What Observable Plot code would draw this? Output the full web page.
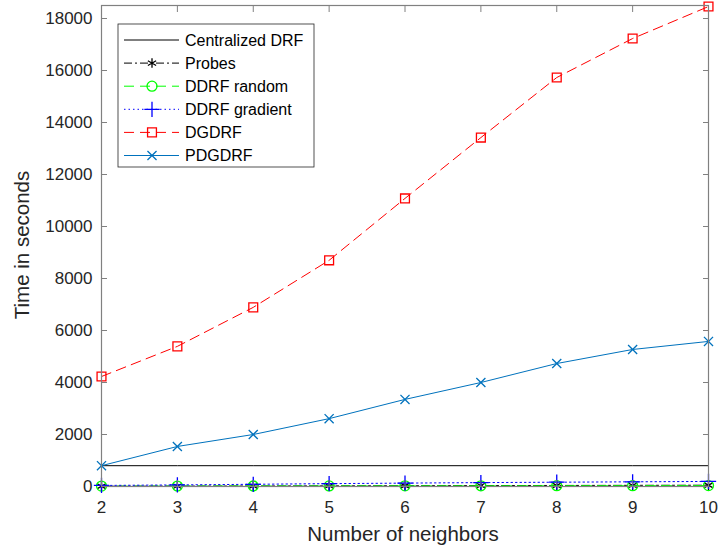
<!DOCTYPE html>
<html>
<head>
<meta charset="utf-8">
<script src="https://cdn.jsdelivr.net/npm/d3@7"></script>
<script src="https://cdn.jsdelivr.net/npm/@observablehq/plot@0.6"></script>
<style>
  html, body { margin: 0; padding: 0; background: #fff; }
  #chart svg { display: block; }
</style>
</head>
<body>
<div id="chart"></div>
<script>
const neighbors = [2, 3, 4, 5, 6, 7, 8, 9, 10];
const centralizedDRF = [800, 800, 800, 800, 800, 800, 800, 800, 800];
const probes = [10, 15, 20, 25, 30, 35, 40, 45, 50];
const ddrfRandom = [15, 18, 20, 22, 25, 27, 30, 32, 35];
const ddrfGradient = [40, 60, 85, 110, 130, 150, 165, 180, 195];
const dgdrf = [4230, 5390, 6890, 8700, 11080, 13420, 15730, 17230, 18460];
const pdgdrf = [800, 1540, 2000, 2610, 3350, 4000, 4730, 5270, 5580];
const yTicks = [0, 2000, 4000, 6000, 8000, 10000, 12000, 14000, 16000, 18000];

const seriesNames = ["Centralized DRF", "Probes", "DDRF random", "DDRF gradient", "DGDRF", "PDGDRF"];
const seriesValues = [centralizedDRF, probes, ddrfRandom, ddrfGradient, dgdrf, pdgdrf];
const styles = {
  "Centralized DRF": {stroke: "#000000", dash: "none", symbol: null},
  "Probes": {stroke: "#000000", dash: "8,3,2,3", symbol: "asterisk"},
  "DDRF random": {stroke: "#00ff00", dash: "10,6", symbol: "circle"},
  "DDRF gradient": {stroke: "#0000ff", dash: "1.5,3", symbol: "plus"},
  "DGDRF": {stroke: "#ff0000", dash: "10,6", symbol: "square"},
  "PDGDRF": {stroke: "#0072bd", dash: "none", symbol: "times"}
};
const rSize = {asterisk: 4.5, circle: 5, plus: 5, square: 5, times: 4.2};

const rows = [];
seriesNames.forEach((name, i) => {
  neighbors.forEach((n, j) => rows.push({series: name, x: n, y: seriesValues[i][j]}));
});

const marks = [];
seriesNames.forEach(name => {
  const s = styles[name];
  const data = rows.filter(d => d.series === name);
  marks.push(Plot.line(data, {x: "x", y: "y", stroke: s.stroke, strokeWidth: 1, strokeDasharray: s.dash}));
  if (s.symbol) {
    marks.push(Plot.dot(data, {x: "x", y: "y", stroke: s.stroke, symbol: () => s.symbol, r: rSize[s.symbol], strokeWidth: 1.3, fill: "none"}));
  }
});

const axisColor = "#262626";
const chart = Plot.plot({
  width: 721,
  height: 549,
  marginLeft: 101,
  marginRight: 13,
  marginTop: 5,
  marginBottom: 63,
  style: {fontFamily: "'Liberation Sans', Arial, Helvetica, sans-serif", background: "#fff", color: axisColor},
  x: {domain: [2, 10]},
  y: {domain: [0, 18500]},
  marks: [
    ...marks,
    Plot.frame({stroke: "#808080", strokeWidth: 1.2}),
    Plot.axisX({ticks: neighbors, tickSize: -6, tickPadding: 20, fontSize: 17, label: null, stroke: "#808080"}),
    Plot.axisX({anchor: "top", ticks: neighbors, tickSize: -6, tickFormat: () => "", label: null, stroke: "#808080"}),
    Plot.axisY({ticks: yTicks, tickSize: -6, tickPadding: 15, fontSize: 17, label: null, tickFormat: d => String(d), stroke: "#808080"}),
    Plot.axisY({anchor: "right", ticks: yTicks, tickSize: -6, tickFormat: () => "", label: null, stroke: "#808080"})
  ]
});

document.getElementById("chart").appendChild(chart);

const svg = d3.select(chart);
// Axis titles
svg.append("text")
  .attr("x", 403).attr("y", 541)
  .attr("text-anchor", "middle")
  .attr("font-size", 20.5)
  .attr("fill", axisColor)
  .text("Number of neighbors");
svg.append("text")
  .attr("transform", "translate(29,245) rotate(-90)")
  .attr("text-anchor", "middle")
  .attr("font-size", 20.5)
  .attr("fill", axisColor)
  .text("Time in seconds");

// Legend
const lg = svg.append("g").attr("text-anchor", "start");
lg.append("rect")
  .attr("x", 118).attr("y", 24).attr("width", 196).attr("height", 143)
  .attr("fill", "#fff").attr("stroke", axisColor).attr("stroke-width", 0.8);
const symMap = {asterisk: d3.symbolAsterisk, circle: d3.symbolCircle, plus: d3.symbolPlus, square: d3.symbolSquare, times: d3.symbolTimes};
seriesNames.forEach((name, i) => {
  const s = styles[name];
  const yy = 40 + i * 23.1;
  lg.append("line")
    .attr("x1", 124).attr("x2", 179).attr("y1", yy).attr("y2", yy)
    .attr("stroke", s.stroke).attr("stroke-width", 1)
    .attr("stroke-dasharray", s.dash);
  if (s.symbol) {
    const r = rSize[s.symbol];
    lg.append("path")
      .attr("transform", `translate(152,${yy})`)
      .attr("d", d3.symbol(symMap[s.symbol], Math.PI * r * r)())
      .attr("fill", "none")
      .attr("stroke", s.stroke).attr("stroke-width", 1.3);
  }
  lg.append("text")
    .attr("x", 185).attr("y", yy).attr("dy", "0.35em")
    .attr("text-anchor", "start")
    .attr("font-size", 16).attr("fill", "#000")
    .text(name);
});
</script>
</body>
</html>
